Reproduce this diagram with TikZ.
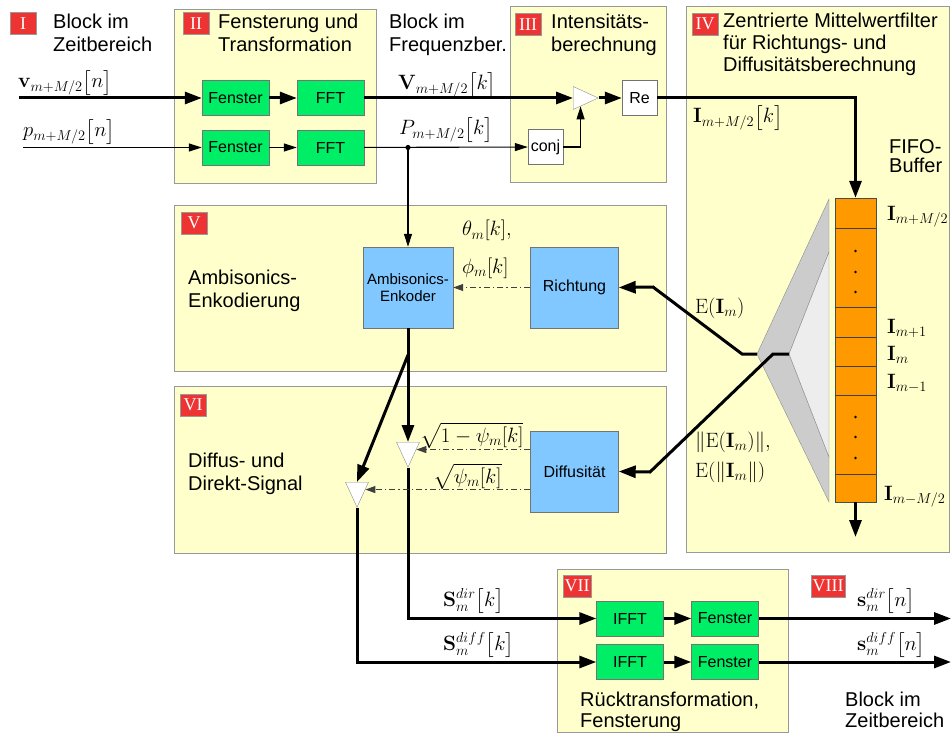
\documentclass[tikz,border=0pt]{standalone}
\usepackage{amsmath}
\usepackage[no-math]{fontspec}
\setmainfont{Liberation Sans}
\newfontfamily\romfont{Liberation Serif}
\usetikzlibrary{arrows.meta,positioning,shapes.geometric}

\definecolor{panelbg}{HTML}{FFFFCC}
\definecolor{fengreen}{HTML}{00EE66}
\definecolor{encblue}{HTML}{80C8FF}
\definecolor{fifoorange}{HTML}{FF9900}
\definecolor{tagred}{HTML}{EE3333}

\begin{document}
\begin{tikzpicture}[x=1pt,y=-1pt,node distance=95pt,
  panel/.style={draw=black!40,fill=panelbg},
  blk/.style={draw=black!55,inner sep=0pt,font=\fontsize{16}{18}\selectfont},
  fen/.style={blk,fill=fengreen,minimum width=67pt,minimum height=35pt},
  enc/.style={blk,fill=encblue,minimum width=88pt,minimum height=81pt},
  wbox/.style={blk,fill=white,minimum width=35pt,minimum height=35pt},
  mult/.style={isosceles triangle,isosceles triangle stretches,draw=black!45,fill=white,
    minimum width=23pt,minimum height=25pt,inner sep=0pt},
  tag/.style={draw=black!40,fill=tagred,text=white,font=\romfont\fontsize{18}{18}\selectfont,
    inner sep=0pt,inner xsep=1.5pt,minimum height=22pt,minimum width=26pt,anchor=north west},
  txt/.style={anchor=base west,align=left,inner sep=0pt,font=\fontsize{20}{23}\selectfont},
  lbl/.style={anchor=base west,inner sep=0pt,font=\fontsize{22}{26}\selectfont},
  thk/.style={line width=3pt,-{Triangle[length=17pt,width=12pt]}},
  thn/.style={line width=1.1pt,-{Triangle[length=13pt,width=8pt]}},
  dd/.style={line width=1pt,black!75,dash pattern=on 6pt off 3pt on 1.5pt off 3pt,
    -{Triangle[length=10pt,width=7pt]}}]

\useasboundingbox (0,0) rectangle (951,733);

\draw[panel] (174,9)   rectangle (376,183);
\draw[panel] (510,6)   rectangle (666,182);
\draw[panel] (686,6)   rectangle (949.5,552);
\draw[panel] (174,205) rectangle (666,371);
\draw[panel] (174,386) rectangle (666,553);
\draw[panel] (557,569) rectangle (788,732.5);

\node[tag] (tI)    at (10,12)  {I};
\node[tag] (tII)   at (183,12) {II};
\node[tag] (tIII)  at (515,13) {III};
\node[tag] (tIV)   at (692,13) {IV};
\node[tag] (tV)    at (181,212) {V};
\node[tag] (tVI)   at (180,394) {VI};
\node[tag] (tVII)  at (563,575) {VII};
\node[tag] (tVIII) at (811,575) {VIII};

\node[txt] (zeit1)  at (53,52)  {Block im\\Zeitbereich};
\node[txt] (fenst)  at (218,52) {Fensterung und\\Transformation};
\node[txt] (freq)   at (389,52) {Block im\\Frequenzber.};
\node[txt] (inten)  at (551,52) {Intensitäts-\\berechnung};
\node[txt,font=\fontsize{20}{22}\selectfont] (mittel) at (723,72)
  {Zentrierte Mittelwertfilter\\für Richtungs- und\\Diffusitätsberechnung};
\node[txt,font=\fontsize{20}{20}\selectfont] (fifot) at (889,173) {FIFO-\\Buffer};
\node[txt] (ambi)   at (188,307) {Ambisonics-\\Enkodierung};
\node[txt] (difdir) at (188,490) {Diffus- und\\Direkt-Signal};
\node[txt,font=\fontsize{20}{21}\selectfont] (rueck) at (580,727) {Rücktransformation,\\Fensterung};
\node[txt,font=\fontsize{20}{21}\selectfont] (zeit2) at (845,727) {Block im\\Zeitbereich};

\filldraw[fill=black!20,draw=black!45] (829,199) -- (757,354) -- (829,502) -- (829,457)
  -- (789,354) -- (829,252) -- cycle;
\filldraw[fill=black!7,draw=black!45] (829,252) -- (789,354) -- (829,457) -- cycle;
\coordinate (ftip)   at (757,354);
\coordinate (ftipin) at (789,354);

\node[draw=black!70,fill=fifoorange,minimum width=41pt,minimum height=304pt,inner sep=0pt]
  (fifo) at (855.5,350) {};
\foreach \y in {228,307,337,366,395,474}
  \draw[black!75] (835,\y) -- (876,\y);
\foreach \y in {251,272,292,417,437,458}
  \fill (855.5,\y) circle (1.3pt);
\coordinate (fout) at (855.5,537);

\node[fen]  (fen1)  at (235.5,98)  {Fenster};
\node[fen]  (fft1)  [right of=fen1] {FFT};
\node[fen]  (fen2)  at (235.5,147.5) {Fenster};
\node[fen]  (fft2)  [right of=fen2] {FFT};
\node[wbox] (conj)  at (545.5,147) {conj};
\node[wbox] (re)    at (639.5,98)  {Re};
\node[mult,anchor=lower side] (mul) at (573,98) {};

\node[enc,align=center,font=\fontsize{15}{17}\selectfont,minimum width=90pt] (enk)
  at (408,287.5) {Ambisonics-\\Enkoder};
\node[enc]  (richt) at (574.5,287.5) {Richtung};
\node[enc]  (diffu) [below of=richt,node distance=184pt] {Diffusität};
\node[mult,shape border rotate=270,anchor=lower side] (m1) at (408,442) {};
\node[mult,shape border rotate=270,anchor=lower side] (m2) at (357,482) {};

\node[fen]  (ifft1) at (630,618.5) {IFFT};
\node[fen]  (win1)  [right of=ifft1] {Fenster};
\node[fen]  (ifft2) at (630,662) {IFFT};
\node[fen]  (win2)  [right of=ifft2] {Fenster};

\coordinate (vin)   at (19,98);
\coordinate (pin)   at (23,147.5);
\coordinate (pj)    at (enk.north |- fft2.east);
\coordinate (br)    at (408,355);
\coordinate (sdir)  at (951,618.5);
\coordinate (sdiff) at (951,662);

\path[thk]
  (vin)      edge (fen1)
  (fen1)     edge (fft1)
  (fft1)     edge (mul.lower side)
  (mul.apex) edge (re)
  (enk)      edge (m1.lower side)
  (br)       edge (m2.lower side)
  (fifo)     edge (fout)
  (ifft1)    edge (win1)
  (ifft2)    edge (win2)
  (win1)     edge (sdir)
  (win2)     edge (sdiff);
\draw[thk] (re.east) -| (fifo.north);
\draw[thk] (m1.apex) |- (ifft1.west);
\draw[thk] (m2.apex) |- (ifft2.west);
\draw[thk] (ftip) -- ++(-15,0) -- (653,287) -- (richt.east);
\draw[thk] (ftipin) -- ++(-16,0) -- (650,472) -- (diffu.east);

\path[thn]
  (pin)  edge (fen2)
  (fen2) edge (fft2)
  (fft2) edge (conj)
  (pj)   edge (enk);
\draw[thn] (conj.east) -| (mul.south);
\fill (pj) circle (2.6pt);

\path[dd]
  (richt) edge (enk)
  (m1.east -| diffu.west) edge (m1.east)
  (m2.east -| diffu.west) edge (m2.east);

\node[lbl] (lv)    at (18,88)   {$\mathbf{v}_{m+M/2}\big[n\big]$};
\node[lbl] (lp)    at (23,137)  {$p_{m+M/2}\big[n\big]$};
\node[lbl] (lV)    at (398,90)  {$\mathbf{V}_{m+M/2}\big[k\big]$};
\node[lbl] (lP)    at (399,135) {$P_{m+M/2}\big[k\big]$};
\node[lbl] (lI)    at (693,123) {$\mathbf{I}_{m+M/2}\big[k\big]$};
\node[lbl] (lI1)   at (887,220) {$\mathbf{I}_{m+M/2}$};
\node[lbl] (lI2)   at (887,333) {$\mathbf{I}_{m+1}$};
\node[lbl] (lI3)   at (887,360) {$\mathbf{I}_{m}$};
\node[lbl] (lI4)   at (887,388) {$\mathbf{I}_{m-1}$};
\node[lbl] (lI5)   at (884,500) {$\mathbf{I}_{m-M/2}$};
\node[lbl] (lE)    at (695,313) {$\mathrm{E}(\mathbf{I}_m)$};
\node[lbl] (lnE)   at (695,447) {$\|\mathrm{E}(\mathbf{I}_m)\|,$};
\node[lbl] (lEn)   at (695,477) {$\mathrm{E}(\|\mathbf{I}_m\|)$};
\node[lbl] (lth)   at (462,236) {$\theta_m[k],$};
\node[lbl] (lph)   at (462,273) {$\phi_m[k]$};
\node[lbl] (lsq1)  at (420,442) {$\sqrt{1-\psi_m[k]}$};
\node[lbl] (lsq2)  at (433,483) {$\sqrt{\psi_m[k]}$};
\node[lbl] (lSd)   at (443,606) {$\mathbf{S}_m^{dir}\big[k\big]$};
\node[lbl] (lSf)   at (443,650) {$\mathbf{S}_m^{diff}\big[k\big]$};
\node[lbl] (lsd)   at (857,606) {$\mathbf{s}_m^{dir}\big[n\big]$};
\node[lbl] (lsf)   at (857,650) {$\mathbf{s}_m^{diff}\big[n\big]$};
\end{tikzpicture}
\end{document}
